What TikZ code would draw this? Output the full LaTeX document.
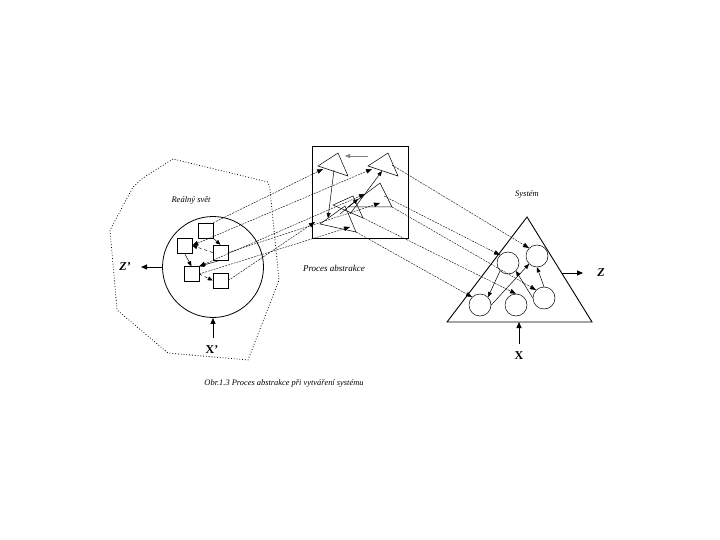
\documentclass[tikz,border=0pt]{standalone}
\usepackage{fontspec}
\setmainfont{Liberation Serif}
\usetikzlibrary{arrows.meta}
\tikzset{
  sq/.style={draw,line width=0.5pt,minimum size=15pt,inner sep=0pt},
  crc/.style={circle,draw,line width=0.5pt,minimum size=22pt,inner sep=0pt},
  link/.style={-{Triangle[length=6pt,width=4.5pt]},line width=0.4pt,dash pattern=on 2pt off 1pt},
  dlink/.style={{Triangle[length=6pt,width=4.5pt]}-{Triangle[length=6pt,width=4.5pt]},line width=0.4pt,dash pattern=on 2pt off 1pt},
  inlink/.style={-{Triangle[length=5pt,width=4pt]},line width=0.5pt},
  io/.style={-{Triangle[length=6pt,width=5pt]},line width=0.8pt},
  lbl/.style={font=\itshape\fontsize{8.5}{10}\selectfont},
  iolbl/.style={font=\bfseries\fontsize{12}{14}\selectfont},
}
\begin{document}
\begin{tikzpicture}[x=1pt,y=-1pt]
\useasboundingbox (0,0) rectangle (720,540);

% real world
\draw[dotted,line width=0.8pt] (173,159) -- (143,178) -- (133,187) -- (110,230) -- (117,310)
  -- (168,353) -- (248,360) -- (279,280) -- (270,190) -- (268,182) -- cycle;
\node[lbl] (realwd) at (191,200) {Reálný svět};
\node[circle,draw,line width=0.8pt,minimum size=101pt,inner sep=0pt] (world) at (213,267) {};

\node[sq] (s1) at (205.5,230.5) {};
\node[sq] (s2) at (184.5,245.5) {};
\node[sq] (s3) at (220.5,252.5) {};
\node[sq] (s4) at (191.5,274) {};
\node[sq] (s5) at (220.5,280.5) {};

\draw[inlink] (s1.south east) -- (s3.north);
\draw[inlink,dashed] (s3.west) -- (s2.east);
\draw[inlink] (s2.south) -- (s4.north);
\draw[inlink] (s3.south) -- (s4.north east);
\draw[inlink,dashed] (s4.east) -- (s5.west);

\coordinate (zpt) at (141,267);
\draw[io] (world.west) -- (zpt);
\node[iolbl,font=\bfseries\itshape\fontsize{12}{14}\selectfont] (zp) at (125,267) {Z'};
\coordinate (xpt) at (213,338);
\draw[io] (xpt) -- (world.south);
\node[iolbl] (xp) at (212,350) {X'};

% abstraction
\node[draw,line width=0.8pt,minimum width=96pt,minimum height=92pt,inner sep=0pt] (box) at (360,192) {};
\node[lbl,font=\itshape\fontsize{9}{11}\selectfont] (abstr) at (334,268) {Proces abstrakce};

\coordinate (t1a) at (318,166); \coordinate (t1b) at (338,153); \coordinate (t1c) at (348,176);
\coordinate (t2a) at (368,166); \coordinate (t2b) at (388,153); \coordinate (t2c) at (398,176);
\coordinate (t3a) at (348,207); \coordinate (t3b) at (380,183); \coordinate (t3c) at (392,207);
\coordinate (t4a) at (333,205); \coordinate (t4b) at (353,196); \coordinate (t4c) at (363,218);
\coordinate (t5a) at (320,224); \coordinate (t5b) at (345,206); \coordinate (t5c) at (356,232);
\foreach \t in {t1,t2,t3,t4,t5}
  \draw[line width=0.5pt] (\t a) -- (\t b) -- (\t c) -- cycle;

\coordinate (t1in) at (323,169);
\coordinate (t1x) at (345,156);
\coordinate (t1y) at (334,170);
\coordinate (t2in) at (372,169);
\coordinate (t2x) at (368,156);
\coordinate (t2y) at (382,171);
\coordinate (t2out) at (392,165);
\coordinate (t3in) at (380,203);
\coordinate (t3out) at (384,196);
\coordinate (t4in) at (358,199);
\coordinate (t4in2) at (365,194);
\coordinate (t5in) at (315,222);
\coordinate (t5in2) at (350,227);
\coordinate (t5y) at (328,218);
\coordinate (t5z) at (350,214);
\coordinate (t5w) at (340,214);

\draw[inlink,draw=gray] (t2x) -- (t1x);
\draw[inlink] (t1y) -- (t5y);
\draw[inlink] (t5z) -- (t2y);
\draw[inlink] (t5w) -- (t4in);

% real world -> abstraction
\draw[link] (s1.north east) -- (t1in);
\draw[dlink] (s2.east) -- (t2in);
\draw[link] (s3.east) -- (t3in);
\draw[dlink] (s4.north east) -- (t4in2);
\draw[link] (s4.east) -- (t5in2);
\draw[link] (s5.east) -- (t5in);

% system
\node[lbl] (systm) at (527,194) {Systém};
\coordinate (sys1) at (527,217); \coordinate (sys2) at (447,322); \coordinate (sys3) at (592,322);
\draw[line width=0.9pt] (sys1) -- (sys2) -- (sys3) -- cycle;

\node[crc] (c1) at (508,263) {};
\node[crc] (c2) at (537,256) {};
\node[crc] (c3) at (480,305) {};
\node[crc] (c4) at (516,305) {};
\node[crc] (c5) at (544,298) {};

\draw[inlink] (c1.south west) -- (c3.north east);
\draw[inlink] (c3.east) -- (c2.south west);
\draw[inlink] (c5.north) -- (c2.south);
\draw[inlink] (c5.west) -- (c1.south east);

% abstraction -> system
\draw[link] (t2out) -- (c2.north west);
\draw[link] (t3out) -- (c1.north west);
\draw[link] (t3c) -- (c5.north west);
\draw[link] (t5c) -- (c3.north west);
\draw[link] (t4c) -- (c4.north);

\coordinate (zs0) at (562,273); \coordinate (zst) at (583,273);
\draw[io] (zs0) -- (zst);
\node[iolbl,font=\bfseries\itshape\fontsize{12}{14}\selectfont] (zs) at (601,273) {Z};
\coordinate (xs0) at (519,344);
\draw[io] (xs0) -- (sys2 -| xs0);
\node[iolbl] (xs) at (519,356) {X};

\node[lbl,font=\itshape\fontsize{8.4}{10}\selectfont] (caption) at (284,383)
  {Obr.1.3 Proces abstrakce při vytváření systému};
\end{tikzpicture}
\end{document}
